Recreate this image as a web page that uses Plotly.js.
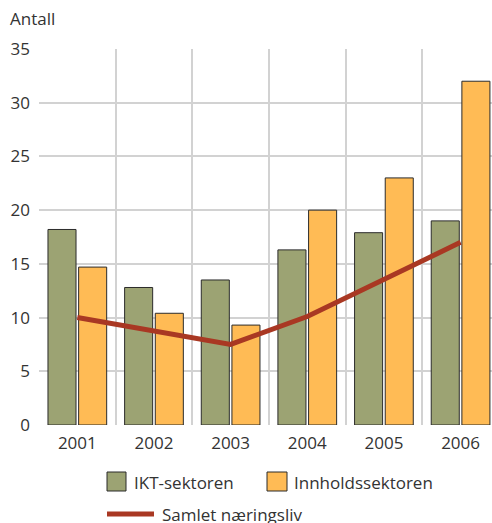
<!DOCTYPE html>
<html>
<head>
<meta charset="utf-8">
<script src="https://cdn.plot.ly/plotly-3.0.1.min.js"></script>
<style>html,body{margin:0;padding:0;background:#fff;}#chart{width:492px;height:523px;}</style>
</head>
<body>
<div id="chart"></div>
<script>
const years = ["2001", "2002", "2003", "2004", "2005", "2006"];
const ikt = [18.2, 12.8, 13.5, 16.3, 17.9, 19.0];
const innhold = [14.7, 10.4, 9.3, 20.0, 23.0, 32.0];
const samlet = [10.0, 8.7, 7.5, 10.1, 13.5, 17.0];
const yTicks = [0, 5, 10, 15, 20, 25, 30, 35];
const names = ["IKT-sektoren", "Innholdssektoren", "Samlet næringsliv"];

const green = "#9ca373";
const orange = "#ffbb55";
const red = "#a93823";
const font = "Open Sans, Noto Sans, sans-serif";

const traces = [
  {type: "bar", x: years, y: ikt, name: names[0], marker: {color: green, line: {color: "#2b2b2b", width: 1}}, showlegend: false},
  {type: "bar", x: years, y: innhold, name: names[1], marker: {color: orange, line: {color: "#2b2b2b", width: 1}}, showlegend: false},
  {type: "scatter", mode: "lines", x: years, y: samlet, name: names[2], line: {color: red, width: 5}, showlegend: false}
];

const layout = {
  width: 492, height: 523,
  margin: {l: 39, r: 0, t: 49, b: 98},
  paper_bgcolor: "#fff", plot_bgcolor: "#fff",
  font: {family: font, size: 17, color: "#333"},
  barmode: "group", bargap: 0.2, bargroupgap: 0.085,
  xaxis: {
    type: "category", range: [-0.5, 5.41],
    tickson: "boundaries", showgrid: true, gridcolor: "#d2d2d2", gridwidth: 2,
    ticks: "", ticklabelstandoff: 6,
    tickfont: {family: font, size: 17, color: "#333"},
    showline: false, zeroline: false, fixedrange: true
  },
  yaxis: {
    range: [0, 35], tickvals: yTicks, ticktext: yTicks.map(String),
    showgrid: true, gridcolor: "#d2d2d2", gridwidth: 2,
    zeroline: false, showline: false, ticks: "", ticklabelstandoff: 8,
    tickfont: {family: font, size: 17, color: "#333"}, fixedrange: true
  },
  shapes: [
    {type: "rect", xref: "paper", yref: "paper", x0: (107-39)/453, x1: (126-39)/453, y0: (98-(491-425))/425, y1: (98-(472-425))/425,
     fillcolor: green, line: {color: "#2b2b2b", width: 1}},
    {type: "rect", xref: "paper", yref: "paper", x0: (267-39)/453, x1: (287-39)/453, y0: (98-(491-425))/425, y1: (98-(472-425))/425,
     fillcolor: orange, line: {color: "#2b2b2b", width: 1}},
    {type: "line", xref: "paper", yref: "paper", x0: (107-39)/453, x1: (154-39)/453, y0: (98-(514-425))/425, y1: (98-(514-425))/425,
     line: {color: red, width: 5}}
  ],
  annotations: [
    {text: "Antall", xref: "paper", yref: "paper", x: (8-39)/453, y: (425-18)/376, xanchor: "left", yanchor: "middle", showarrow: false,
     font: {family: font, size: 17, color: "#333"}},
    {text: names[0], xref: "paper", yref: "paper", x: (132-39)/453, y: (98-(482-425))/376*0+ (425-482)/376, xanchor: "left", yanchor: "middle", showarrow: false,
     font: {family: font, size: 17, color: "#333"}},
    {text: names[1], xref: "paper", yref: "paper", x: (292-39)/453, y: (425-482)/376, xanchor: "left", yanchor: "middle", showarrow: false,
     font: {family: font, size: 17, color: "#333"}},
    {text: names[2], xref: "paper", yref: "paper", x: (160-39)/453, y: (425-514)/376, xanchor: "left", yanchor: "middle", showarrow: false,
     font: {family: font, size: 17, color: "#333"}}
  ]
};
// shapes use plot-height 376 for paper fractions
layout.shapes.forEach(s => {
  if (s.type === "rect") { s.y0 = (425-491)/376; s.y1 = (425-472)/376; }
  else { s.y0 = s.y1 = (425-514)/376; }
});

Plotly.newPlot("chart", traces, layout, {staticPlot: true, displayModeBar: false});
</script>
</body>
</html>
